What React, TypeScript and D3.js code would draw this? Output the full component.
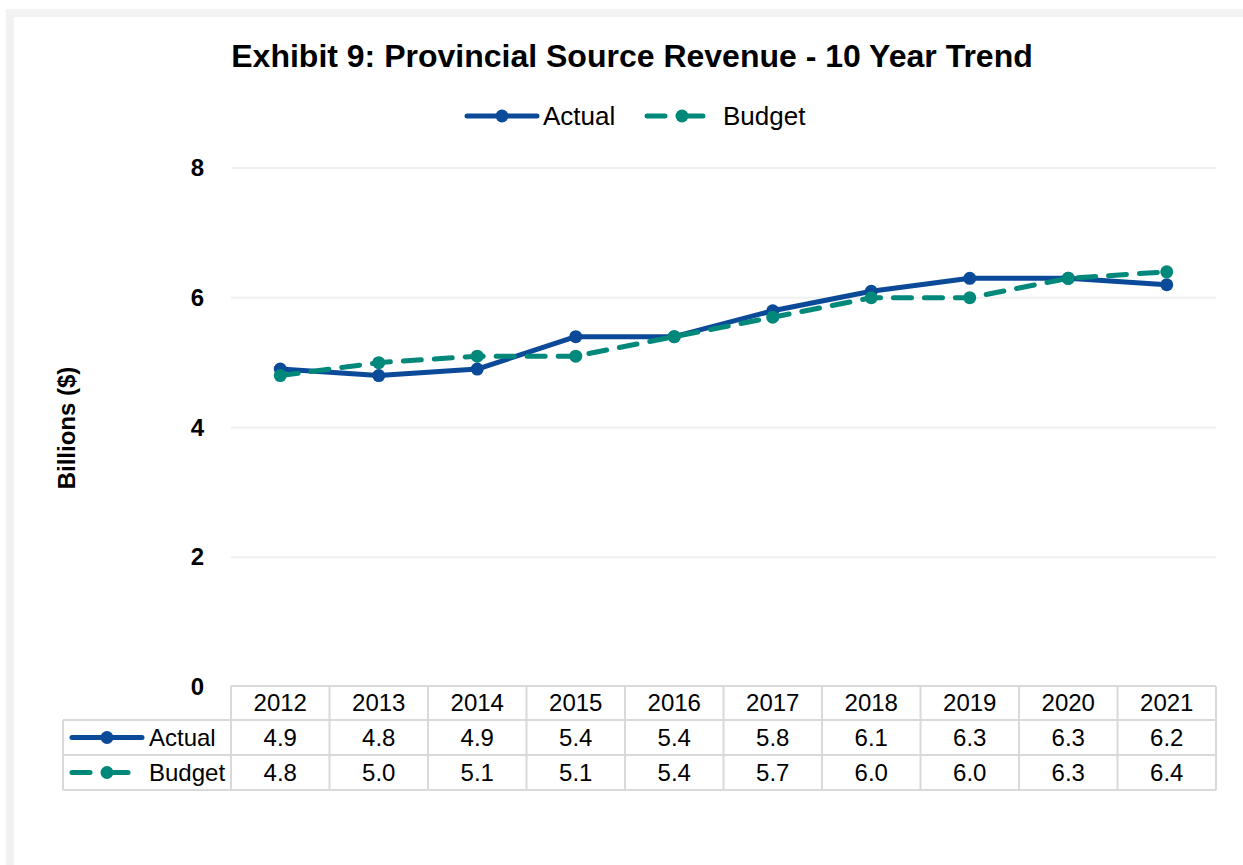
import React from "react";
import * as d3 from "d3";

const years = ["2012", "2013", "2014", "2015", "2016", "2017", "2018", "2019", "2020", "2021"];
const actual = [4.9, 4.8, 4.9, 5.4, 5.4, 5.8, 6.1, 6.3, 6.3, 6.2];
const budget = [4.8, 5.0, 5.1, 5.1, 5.4, 5.7, 6.0, 6.0, 6.3, 6.4];
const yTicks = [0, 2, 4, 6, 8];

const W = 1243;
const H = 865;
const ACTUAL_COLOR = "#0b4a98";
const BUDGET_COLOR = "#00897a";
const FONT = "'Liberation Sans', Arial, sans-serif";

export default function App() {
  const left = 231;
  const right = 1216;
  const top = 168;
  const bottom = 687;

  const x = d3.scaleBand<string>().domain(years).range([left, right]);
  const y = d3.scaleLinear().domain([0, 8]).range([bottom, top]);
  const cx = (i: number) => (x(years[i]) as number) + x.bandwidth() / 2;

  const line = d3
    .line<number>()
    .x((_, i) => cx(i))
    .y((d) => y(d));

  const series = [
    { name: "Actual", values: actual, color: ACTUAL_COLOR, dash: null as string | null },
    { name: "Budget", values: budget, color: BUDGET_COLOR, dash: "18,13" },
  ];

  const rowTop = [686, 720, 755, 790];
  const tableLeft = 63;
  const border = "#d9d9d9";

  const legendKey = (x0: number, yy: number, s: (typeof series)[number]) =>
    s.dash ? (
      <g>
        <line x1={x0} x2={x0 + 18} y1={yy} y2={yy} stroke={s.color} strokeWidth={5} strokeLinecap="round" />
        <line x1={x0 + 35} x2={x0 + 56} y1={yy} y2={yy} stroke={s.color} strokeWidth={5} strokeLinecap="round" />
        <circle cx={x0 + 35} cy={yy} r={6.5} fill={s.color} />
      </g>
    ) : (
      <g>
        <line x1={x0} x2={x0 + 70} y1={yy} y2={yy} stroke={s.color} strokeWidth={5} strokeLinecap="round" />
        <circle cx={x0 + 35} cy={yy} r={6.5} fill={s.color} />
      </g>
    );

  return (
    <svg width={W} height={H} style={{ position: "absolute", left: 0, top: 0, fontFamily: FONT }}>
      <rect x={0} y={0} width={W} height={H} fill="#fff" />
      <rect x={6} y={9} width={W - 6} height={H - 9} fill="#f2f2f2" />
      <rect x={14} y={17} width={W - 14} height={H - 17} fill="#fff" />

      <text x={632} y={67} textAnchor="middle" fontSize={32} fontWeight="bold" fill="#000">
        Exhibit 9: Provincial Source Revenue - 10 Year Trend
      </text>

      {/* top legend */}
      {legendKey(467, 116, series[0])}
      <text x={543} y={125} fontSize={26} fill="#000">Actual</text>
      {legendKey(647, 116, series[1])}
      <text x={723} y={125} fontSize={26} fill="#000">Budget</text>

      {/* gridlines + y ticks */}
      {yTicks.map((t) => (
        <g key={t}>
          {t > 0 && <line x1={left} x2={right} y1={y(t)} y2={y(t)} stroke="#f0f0f0" strokeWidth={2} />}
          <text x={204} y={y(t) + 8} textAnchor="end" fontSize={24} fontWeight="bold" fill="#000">
            {t}
          </text>
        </g>
      ))}

      <text
        transform={`translate(75,428) rotate(-90)`}
        textAnchor="middle"
        fontSize={24}
        fontWeight="bold"
        fill="#000"
      >
        Billions ($)
      </text>

      {/* lines */}
      {series.map((s) => (
        <g key={s.name}>
          <path
            d={line(s.values) as string}
            fill="none"
            stroke={s.color}
            strokeWidth={5}
            strokeDasharray={s.dash ?? undefined}
            strokeLinecap={s.dash ? "round" : "butt"}
            strokeLinejoin="round"
          />
          {s.values.map((v, i) => (
            <circle key={i} cx={cx(i)} cy={y(v)} r={6.5} fill={s.color} />
          ))}
        </g>
      ))}

      {/* data table */}
      <g fill="none" stroke={border} strokeWidth={2}>
        <line x1={left} x2={right} y1={rowTop[0]} y2={rowTop[0]} />
        {rowTop.slice(1).map((r) => (
          <line key={r} x1={tableLeft} x2={right} y1={r} y2={r} />
        ))}
        <line x1={tableLeft} x2={tableLeft} y1={rowTop[1]} y2={rowTop[3]} />
        {years.map((yr) => (
          <line key={yr} x1={x(yr) as number} x2={x(yr) as number} y1={rowTop[0]} y2={rowTop[3]} />
        ))}
        <line x1={right} x2={right} y1={rowTop[0]} y2={rowTop[3]} />
      </g>
      {years.map((yr, i) => (
        <text key={yr} x={cx(i)} y={711} textAnchor="middle" fontSize={24} fill="#000">
          {yr}
        </text>
      ))}
      {series.map((s, r) => {
        const mid = (rowTop[r + 1] + rowTop[r + 2]) / 2;
        return (
          <g key={s.name}>
            {legendKey(72, mid, s)}
            <text x={149} y={mid + 8} fontSize={24} fill="#000">
              {s.name}
            </text>
            {s.values.map((v, i) => (
              <text key={i} x={cx(i)} y={mid + 8} textAnchor="middle" fontSize={24} fill="#000">
                {v.toFixed(1)}
              </text>
            ))}
          </g>
        );
      })}
    </svg>
  );
}
